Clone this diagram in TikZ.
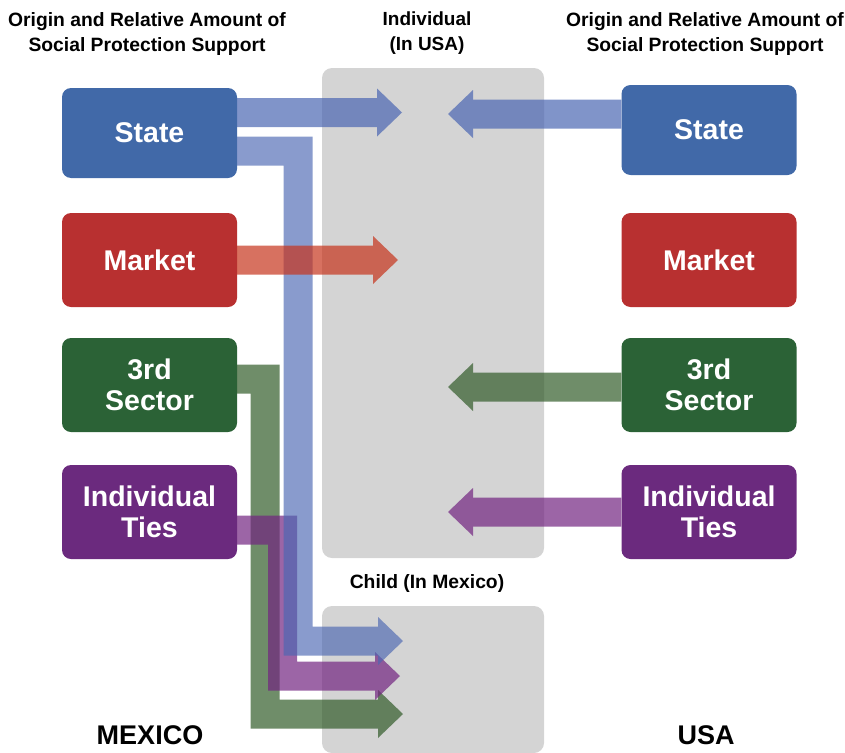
\documentclass[tikz,border=0pt]{standalone}
\usepackage{fontspec}
\setmainfont{Liberation Sans}
\usetikzlibrary{arrows.meta}

\definecolor{statec}{RGB}{65,105,168}
\definecolor{marketc}{RGB}{184,48,48}
\definecolor{thirdc}{RGB}{43,98,54}
\definecolor{tiesc}{RGB}{107,42,126}
\definecolor{stateflow}{RGB}{74,102,178}
\definecolor{marketflow}{RGB}{198,52,28}
\definecolor{thirdflow}{RGB}{50,92,42}
\definecolor{tiesflow}{RGB}{114,36,128}
\definecolor{panelgray}{RGB}{212,212,212}

\tikzset{
  sector/.style={rounded corners=9pt, minimum width=175pt, minimum height=94pt, inner sep=0pt,
    text=white, align=center, font=\bfseries\fontsize{28.5}{31}\selectfont},
  panel/.style={fill=panelgray, rounded corners=10pt, minimum width=222pt, inner sep=0pt},
  flow/.style={line width=29pt, line join=miter, -{Triangle[length=25pt,width=48pt,line width=0pt]}},
  caption/.style={font=\bfseries\fontsize{19.3}{25.5}\selectfont, align=center},
  country/.style={font=\bfseries\fontsize{27}{30}\selectfont, anchor=base, inner sep=0pt}
}

\begin{document}
\begin{tikzpicture}[x=1pt,y=-1pt]
\useasboundingbox (0,0) rectangle (845,752);
% receiving sides
\node[panel, minimum height=490pt] (usa) at (433,313) {};
\node[panel, minimum height=147pt] (kid) at (433,679.5) {};
% sources in Mexico
\node[sector, fill=statec, minimum height=90pt] (ms) at (149.5,133) {State};
\node[sector, fill=marketc] (mm) at (149.5,260) {Market};
\node[sector, fill=thirdc] (mt) at (149.5,385) {3rd\\Sector};
\node[sector, fill=tiesc] (mi) at (149.5,512) {Individual\\Ties};
% sources in USA
\node[sector, fill=statec, minimum height=90pt] (us) at (709,130) {State};
\node[sector, fill=marketc] (um) at (709,260) {Market};
\node[sector, fill=thirdc] (ut) at (709,385) {3rd\\Sector};
\node[sector, fill=tiesc] (ui) at (709,512) {Individual\\Ties};
% arrow ends and bends
\coordinate (aS) at (402,112.5);
\coordinate (aM) at (398,260);
\coordinate (bS) at (448,114);
\coordinate (bT) at (448,387);
\coordinate (bI) at (448,512);
\coordinate (cS) at (403,641);
\coordinate (cI) at (400,676);
\coordinate (cT) at (403,714);
\coordinate (kS) at (298,151);
\coordinate (kI) at (282.5,530);
\coordinate (kT) at (265,379);
% support flows
\begin{scope}[transparency group, opacity=.7]
\path[draw,flow,thirdflow] (mt.east |- kT) -- (kT) |- (cT);
\end{scope}
\begin{scope}[transparency group, opacity=.7]
\path[draw,flow,tiesflow] (mi.east |- kI) -- (kI) |- (cI);
\end{scope}
\begin{scope}[transparency group, opacity=.65]
\path[draw,flow,stateflow] (ms.east |- kS) -- (kS) |- (cS);
\end{scope}
\begin{scope}[transparency group, opacity=.7]
\path[draw,flow,stateflow] (ms.east |- aS) -- (aS);
\end{scope}
\begin{scope}[transparency group, opacity=.7]
\path[draw,flow,marketflow] (mm.east |- aM) -- (aM);
\end{scope}
\begin{scope}[transparency group, opacity=.7]
\path[draw,flow,stateflow] (us.west |- bS) -- (bS);
\end{scope}
\begin{scope}[transparency group, opacity=.7]
\path[draw,flow,thirdflow] (ut.west |- bT) -- (bT);
\end{scope}
\begin{scope}[transparency group, opacity=.7]
\path[draw,flow,tiesflow] (ui.west |- bI) -- (bI);
\end{scope}
% headings
\node[caption] (hl) at (147,34) {Origin and Relative Amount of\\Social Protection Support};
\node[caption] (hr) at (705,34) {Origin and Relative Amount of\\Social Protection Support};
\node[caption, font=\bfseries\fontsize{19}{24.5}\selectfont] (hu) at (427,33) {Individual\\(In USA)};
\node[caption, anchor=base] (hk) at (427,588) {Child (In Mexico)};
\node[country] (mexico) at (150,744) {MEXICO};
\node[country] (usatxt) at (706,744) {USA};
\end{tikzpicture}
\end{document}
